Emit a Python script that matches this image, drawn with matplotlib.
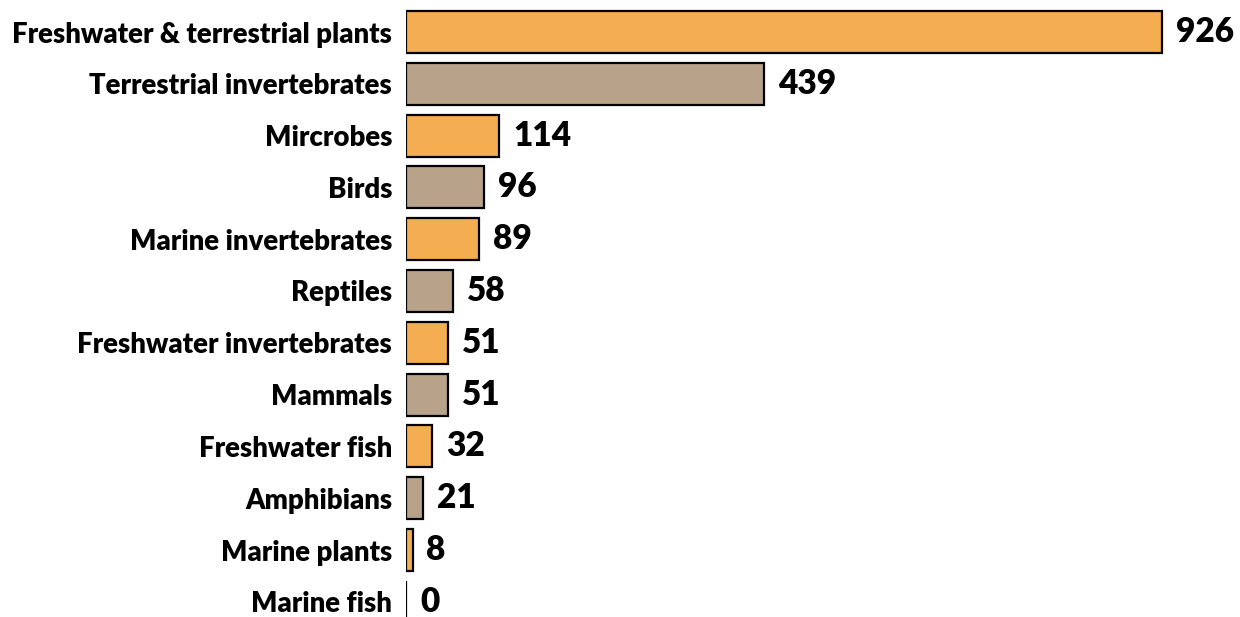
import matplotlib
matplotlib.use("Agg")
import matplotlib.pyplot as plt

categories = ["Freshwater & terrestrial plants", "Terrestrial invertebrates", "Mircrobes",
              "Birds", "Marine invertebrates", "Reptiles", "Freshwater invertebrates",
              "Mammals", "Freshwater fish", "Amphibians", "Marine plants", "Marine fish"]
values = [926, 439, 114, 96, 89, 58, 51, 51, 32, 21, 8, 0]
colors = ["#F5AD52", "#B8A28A"]

plt.rcParams['font.family'] = ['Lato', 'DejaVu Sans']

fig = plt.figure(figsize=(12.4, 6.17), dpi=100)
ax = fig.add_axes([406 / 1240, 0, 1 - 406 / 1240, 1])

ypos = list(range(len(categories)))
bar_colors = [colors[i % 2] for i in ypos]
ax.barh(ypos, values, height=0.81, color=bar_colors, edgecolor="black", linewidth=1.6)

for y, v in zip(ypos, values):
    ax.annotate(str(v), (v, y), xytext=(10, 0), textcoords="offset points",
                va="center", ha="left", fontsize=24, fontweight="heavy")

ax.set_yticks(ypos)
ax.set_yticklabels(categories, fontsize=19.8, fontweight="heavy")
ax.tick_params(axis="y", length=0, pad=10)
ax.set_xticks([])
for s in ax.spines.values():
    s.set_visible(False)

ax.set_xlim(0, (1240 - 406) / 0.8164)
ax.set_ylim((617 - 32) / 51.8, -32 / 51.8)

fig.savefig("out.png", dpi=100)
